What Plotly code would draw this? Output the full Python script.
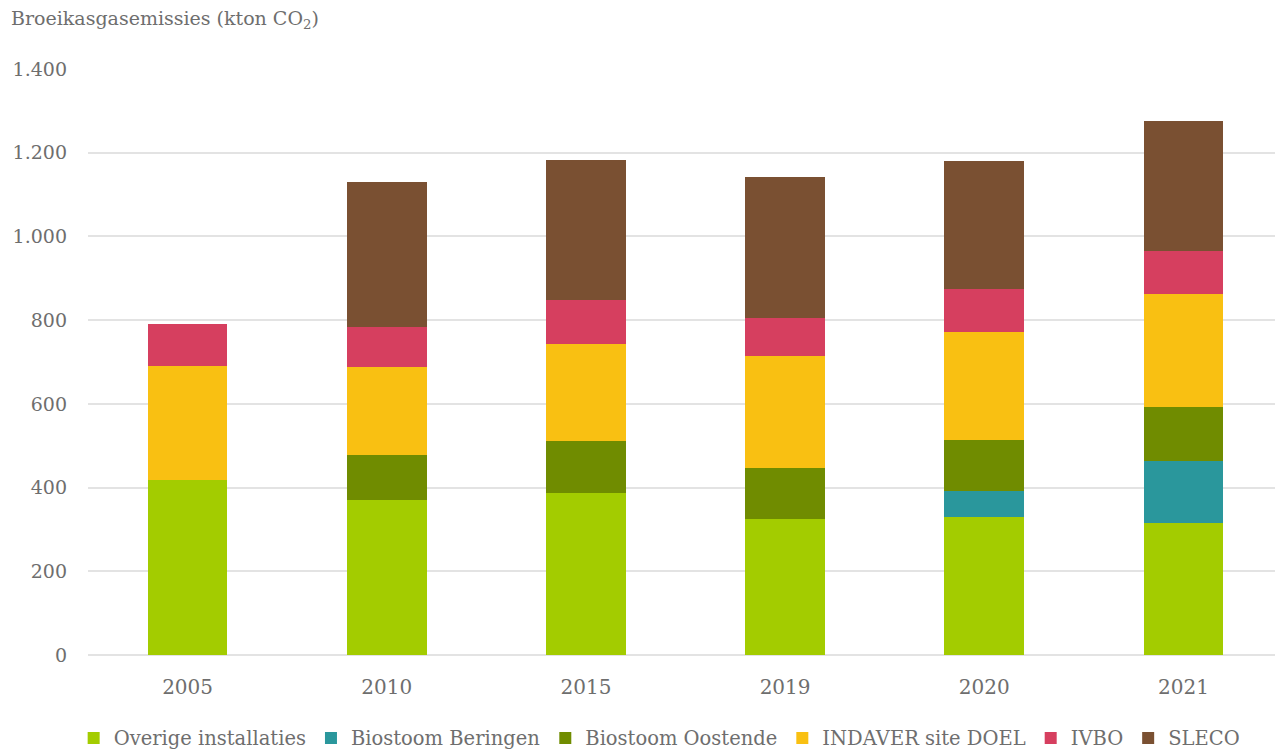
import plotly.graph_objects as go

# Broeikasgasemissies per installatie (kton CO2)
years = ["2005", "2010", "2015", "2019", "2020", "2021"]

overige = [418, 370, 387, 325, 330, 315]
beringen = [0, 0, 0, 0, 62, 148]
oostende = [0, 108, 124, 122, 122, 129]
indaver = [272, 210, 232, 267, 258, 270]
ivbo = [101, 96, 105, 91, 102, 103]
sleco = [0, 346, 334, 337, 306, 311]

series = [
    ("Overige installaties", overige, "#A3CC00"),
    ("Biostoom Beringen", beringen, "#2A979C"),
    ("Biostoom Oostende", oostende, "#708C00"),
    ("INDAVER site DOEL", indaver, "#F9C012"),
    ("IVBO", ivbo, "#D63F5F"),
    ("SLECO", sleco, "#7A5032"),
]

font_family = "DejaVu Serif"
grey = "#6E6E6E"

fig = go.Figure()
for name, vals, col in series:
    fig.add_trace(go.Bar(
        x=years, y=vals, name=name,
        marker=dict(color=col, line=dict(width=0)),
        hoverinfo="x+y+name",
    ))

# page body has an 8px margin, so size the figure a bit smaller
fig.update_layout(
    barmode="stack",
    bargap=0.6,
    width=1275, height=745,
    plot_bgcolor="white", paper_bgcolor="white",
    separators=",.",
    font=dict(family=font_family, color=grey, size=19),
    margin=dict(l=80, r=0, t=61, b=98, autoexpand=False),
    xaxis=dict(showline=False, ticks="", tickfont=dict(size=20), ticklabelstandoff=18),
    yaxis=dict(range=[0, 1400], dtick=200, tickformat=",d",
               gridcolor="#E3E3E3", gridwidth=2, zeroline=True,
               zerolinecolor="#E3E3E3", zerolinewidth=2,
               tickfont=dict(size=19), ticklabelstandoff=20),
    legend=dict(orientation="h", x=-0.012, xanchor="left",
                y=-0.142, yanchor="middle",
                font=dict(size=19.5), traceorder="normal", itemwidth=30),
    annotations=[dict(
        text="Broeikasgasemissies (kton CO<sub>2</sub>)",
        xref="paper", yref="paper", x=-0.066, y=1.084, xanchor="left", yanchor="middle",
        showarrow=False, font=dict(size=19, color=grey),
    )],
)

fig.write_html("out.html")
